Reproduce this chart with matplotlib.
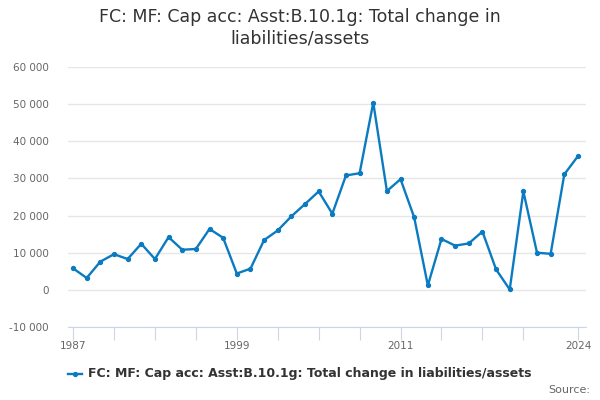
import matplotlib
matplotlib.use("Agg")
import matplotlib.pyplot as plt
from matplotlib.lines import Line2D

years = list(range(1987, 2025))
values = [5800, 3200, 7600, 9600, 8300, 12400, 8300, 14200, 10800, 11000,
          16400, 14000, 4400, 5700, 13400, 16000, 19800, 23100, 26500, 20500,
          30800, 31400, 50400, 26600, 29800, 19500, 1200, 13700, 11900, 12500,
          15700, 5500, 100, 26500, 10000, 9700, 31100, 36000]
yticks = [-10000, 0, 10000, 20000, 30000, 40000, 50000, 60000]
xticks = [1987, 1990, 1993, 1996, 1999, 2002, 2005, 2008, 2011, 2014, 2017, 2020, 2024]
xlabels_shown = {1987: "1987", 1999: "1999", 2011: "2011", 2024: "2024"}
title = "FC: MF: Cap acc: Asst:B.10.1g: Total change in\nliabilities/assets"
series_name = "FC: MF: Cap acc: Asst:B.10.1g: Total change in liabilities/assets"

color = "#0b7bc1"
fig = plt.figure(figsize=(6, 4), dpi=100)
ax = fig.add_axes([68/600, 1-327/400, (586-68)/600, (327-67)/400])

ax.plot(years, values, color=color, lw=1.7, marker="o", ms=2.8, zorder=3)
ax.set_xlim(1986.63, 2024.59)
ax.set_ylim(-10000, 60000)
ax.set_yticks(yticks)
ax.set_yticklabels([f"{v:,}".replace(",", " ") for v in yticks])
ax.set_xticks(xticks)
ax.set_xticklabels([xlabels_shown.get(x, "") for x in xticks])
ax.grid(axis="y", color="#e6e6e6", lw=1)
ax.set_axisbelow(True)
for s in ["top", "right", "left"]:
    ax.spines[s].set_visible(False)
ax.spines["bottom"].set_color("#ccd6eb")
ax.tick_params(axis="y", length=0, labelsize=7.5, labelcolor="#666666", pad=14)
ax.tick_params(axis="x", length=9, color="#ccd6eb", labelsize=7.5, labelcolor="#666666", pad=1)

fig.text(0.5, 1-28/400, title, ha="center", va="center", fontsize=12.5, color="#333333", linespacing=1.25)

fig.add_artist(Line2D([68/600, 82/600], [1-374/400]*2, color=color, lw=1.7, transform=fig.transFigure))
fig.add_artist(Line2D([75/600], [1-374/400], color=color, marker="o", ms=2.8, transform=fig.transFigure))
fig.text(88/600, 1-374/400, series_name, ha="left", va="center", fontsize=9, fontweight="bold", color="#333333")
fig.text(590/600, 1-390/400, "Source:", ha="right", va="center", fontsize=8, color="#666666")

fig.savefig("out.png", dpi=100)
